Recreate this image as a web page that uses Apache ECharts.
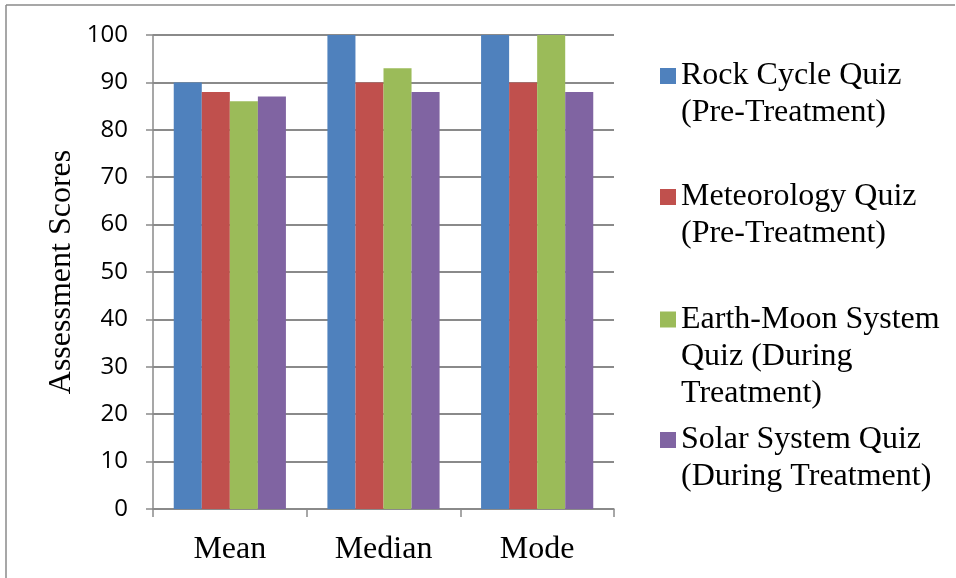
<!DOCTYPE html>
<html>
<head>
<meta charset="utf-8">
<script src="https://cdn.jsdelivr.net/npm/echarts@6/dist/echarts.min.js"></script>
<style>
html,body{margin:0;padding:0;background:#fff;}
#chart{width:956px;height:578px;}
</style>
</head>
<body>
<div id="chart"></div>
<script>
const categories = ['Mean', 'Median', 'Mode'];
const seriesNames = [
  'Rock Cycle Quiz (Pre-Treatment)',
  'Meteorology Quiz (Pre-Treatment)',
  'Earth-Moon System Quiz (During Treatment)',
  'Solar System Quiz (During Treatment)'
];
const legendLines = [
  ['Rock Cycle Quiz', '(Pre-Treatment)'],
  ['Meteorology Quiz', '(Pre-Treatment)'],
  ['Earth-Moon System', 'Quiz (During', 'Treatment)'],
  ['Solar System Quiz', '(During Treatment)']
];
const rockCycle = [90, 100, 100];
const meteorology = [88, 90, 90];
const earthMoon = [86, 93, 100];
const solarSystem = [87, 88, 88];
const yTicks = [0, 10, 20, 30, 40, 50, 60, 70, 80, 90, 100];
const yAxisTitle = 'Assessment Scores';

const values = [rockCycle, meteorology, earthMoon, solarSystem];
const colors = ['#4F81BD', '#C0504D', '#9BBB59', '#8064A2'];
const legendIconCenters = [76, 197, 319.5, 440];
const LH = 37;

const chart = echarts.init(document.getElementById('chart'));

const legends = seriesNames.map((name, i) => {
  const lines = legendLines[i];
  const n = lines.length;
  const blockH = (2 * n - 1) * LH;
  return {
    orient: 'vertical',
    left: 660,
    top: legendIconCenters[i] - blockH / 2,
    padding: 0,
    itemWidth: 16,
    itemHeight: 16,
    icon: 'rect',
    data: [name],
    selectedMode: false,
    formatter: function () {
      return '\n'.repeat(n - 1) + lines.join('\n');
    },
    textStyle: {
      fontFamily: '"Liberation Serif", "Times New Roman", serif',
      fontSize: 32,
      lineHeight: LH,
      color: '#000'
    }
  };
});

const option = {
  animation: false,
  backgroundColor: '#fff',
  graphic: [
    { type: 'line', shape: { x1: 6, y1: 5, x2: 955, y2: 5 }, style: { stroke: '#8a8a8a', lineWidth: 1.5 } },
    { type: 'line', shape: { x1: 6, y1: 5, x2: 6, y2: 578 }, style: { stroke: '#8a8a8a', lineWidth: 1.5 } }
  ],
  legend: legends,
  grid: { left: 153, right: 342, top: 35, bottom: 69, containLabel: false },
  xAxis: {
    type: 'category',
    data: categories,
    axisLine: { show: true, lineStyle: { color: '#8a8a8a', width: 1.5 } },
    axisTick: { show: true, length: 8, lineStyle: { color: '#8a8a8a', width: 1.5 } },
    axisLabel: {
      margin: 25,
      fontFamily: '"Liberation Serif", "Times New Roman", serif',
      fontSize: 32,
      color: '#000'
    }
  },
  yAxis: {
    type: 'value',
    min: 0,
    max: 100,
    interval: 10,
    name: yAxisTitle,
    nameLocation: 'middle',
    nameGap: 75,
    nameTextStyle: {
      fontFamily: '"Liberation Serif", "Times New Roman", serif',
      fontSize: 32,
      color: '#000'
    },
    axisLine: { show: true, lineStyle: { color: '#8a8a8a', width: 1.5 } },
    axisTick: { show: true, length: 7, lineStyle: { color: '#8a8a8a', width: 1.5 } },
    axisLabel: {
      margin: 25,
      fontFamily: '"Open Sans", "Liberation Sans", sans-serif',
      fontSize: 24,
      color: '#000',
      formatter: function (v) { return yTicks.includes(v) ? String(v) : ''; }
    },
    splitLine: { show: true, lineStyle: { color: '#8a8a8a', width: 2 } }
  },
  series: seriesNames.map((name, i) => ({
    name: name,
    type: 'bar',
    data: values[i],
    barGap: '0%',
    barCategoryGap: '27%',
    itemStyle: { color: colors[i] }
  }))
};

chart.setOption(option);
</script>
</body>
</html>
